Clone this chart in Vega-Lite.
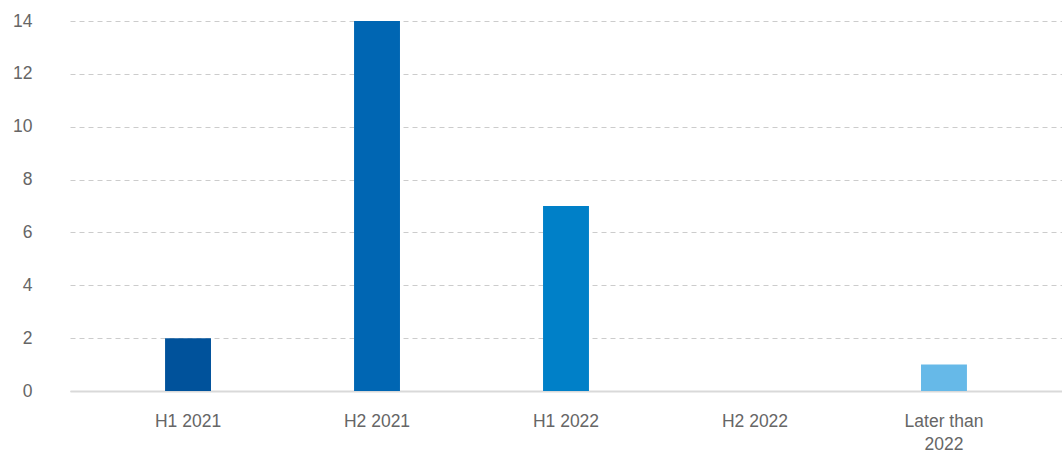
{
  "$schema": "https://vega.github.io/schema/vega-lite/v6.json",
  "autosize": {"type": "none"},
  "padding": {"left": 70, "top": 21, "right": 0, "bottom": 59},
  "width": 992,
  "height": 370,
  "background": "white",
  "config": {"view": {"stroke": null}, "font": "Liberation Sans"},
  "data": {"values": [
    {"period": "H1 2021", "count": 2},
    {"period": "H2 2021", "count": 14},
    {"period": "H1 2022", "count": 7},
    {"period": "H2 2022", "count": 0},
    {"period": "Later than 2022", "count": 1}
  ]},
  "mark": {"type": "bar"},
  "encoding": {
    "x": {
      "field": "period", "type": "nominal", "sort": null,
      "scale": {"paddingInner": 0.757, "paddingOuter": 0.503},
      "axis": {
        "title": null, "labelAngle": 0, "ticks": false,
        "domainColor": "#d9d9d9", "domainWidth": 2,
        "labelFontSize": 17.5, "labelColor": "#666666", "labelPadding": 21,
        "labelBaseline": "top", "labelLineHeight": 23,
        "labelExpr": "datum.label == 'Later than 2022' ? ['Later than', '2022'] : datum.label"
      }
    },
    "y": {
      "field": "count", "type": "quantitative",
      "scale": {"domain": [0, 14], "nice": false},
      "axis": {
        "title": null, "values": [0, 2, 4, 6, 8, 10, 12, 14],
        "domain": false, "ticks": false,
        "labelFontSize": 17.5, "labelColor": "#666666", "labelPadding": 38, "labelDy": 3,
        "gridColor": "#cccccc", "gridDash": [5, 4], "gridWidth": 1
      }
    },
    "color": {
      "field": "period", "type": "nominal", "sort": null, "legend": null,
      "scale": {
        "domain": ["H1 2021", "H2 2021", "H1 2022", "H2 2022", "Later than 2022"],
        "range": ["#00529B", "#0066B3", "#0080C8", "#0090D8", "#66B9E8"]
      }
    }
  }
}
